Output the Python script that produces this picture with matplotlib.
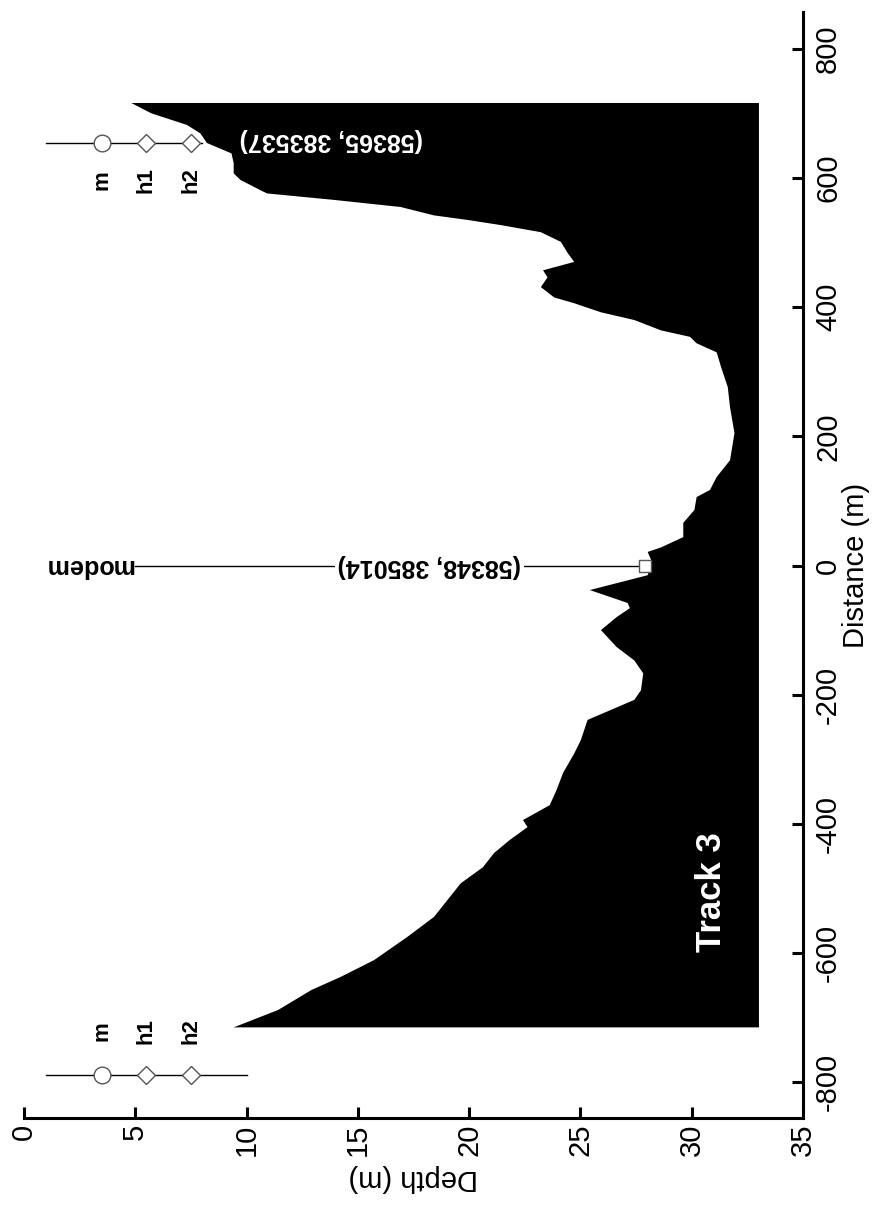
import numpy as np
import matplotlib
matplotlib.use("Agg")
import matplotlib.pyplot as plt

plt.rcParams['font.family'] = ['Liberation Sans', 'DejaVu Sans']
plt.rcParams['axes.unicode_minus'] = False

# bathymetry profile along the track (distance m, depth m)
distance = [717, 701, 683, 670, 655, 639, 624, 608, 598, 582, 577, 567, 556, 543, 536,
            528, 517, 502, 485, 471, 458, 447, 432, 416, 407, 393, 381, 365, 355, 345,
            331, 308, 277, 246, 206, 164, 138, 118, 107, 87, 67, 45, 29, 22, 6,
            -14, -37, -57, -65, -79, -99, -125, -146, -166, -192, -207, -238, -269, -290, -320,
            -347, -370, -393, -404, -424, -444, -466, -491, -517, -543, -574, -610, -636, -656, -687,
            -714]
depth = [4.8, 5.7, 7.3, 7.9, 8.2, 9.3, 9.4, 9.4, 9.7, 10.6, 10.9, 13.9, 16.9, 18.4, 19.9,
         21.4, 23.2, 24.1, 24.4, 24.7, 23.3, 23.5, 23.2, 23.8, 24.7, 25.9, 27.4, 28.6, 29.9, 30.2,
         31.1, 31.3, 31.6, 31.7, 31.9, 31.7, 31.1, 30.8, 30.2, 30.1, 29.6, 29.6, 28.6, 28.0, 28.2,
         28.0, 25.4, 27.1, 27.2, 26.6, 25.9, 26.6, 27.4, 27.8, 27.7, 27.4, 25.3, 25.0, 24.7, 24.2,
         23.9, 23.6, 22.4, 22.6, 21.8, 21.1, 20.6, 19.6, 19.0, 18.4, 17.2, 15.7, 14.2, 12.9, 11.4,
         9.4]
bottom_depth = 33

# hydrophone strings at both ends
string_names = ['m', 'h1', 'h2']
string_depths = [3.5, 5.5, 7.5]
string_markers = ['o', 'D', 'D']
left_string = {'dist': -789, 'top': 1.0, 'bottom': 10.0, 'label_dist': -721}
right_string = {'dist': 655, 'top': 1.0, 'bottom': 8.0, 'label_dist': 597}
right_coords = '(58365, 383537)'

modem_dist = 0
modem_depth = 27.9
modem_coords = '(58348, 385014)'

fig = plt.figure(figsize=(8.91, 12.06), dpi=100)
ax = fig.add_axes([0.0269, 0.073, 0.8743, 0.917])

ax.fill_betweenx(distance, depth, bottom_depth, color='black', lw=0)

for s in (left_string, right_string):
    ax.plot([s['top'], s['bottom']], [s['dist'], s['dist']], color='black', lw=1.0, zorder=3)
    for name, d, mk in zip(string_names, string_depths, string_markers):
        ms = 12 if mk == 'o' else 9
        ax.plot(d, s['dist'], marker=mk, ms=ms, mfc='white', mec='#555555', mew=1.0, zorder=4)
        ax.text(d, s['label_dist'], name, rotation=90, ha='center', va='center',
                fontsize=16, fontweight='bold')

ax.text(13.8, right_string['dist'] + 4, right_coords, rotation=180, ha='center', va='center',
        fontsize=18, fontweight='bold', color='white')

# modem
ax.plot([5.0, modem_depth], [modem_dist, modem_dist], color='black', lw=1.0, zorder=3)
ax.plot(modem_depth, modem_dist, marker='s', ms=9, mfc='white', mec='#555555', mew=1.0, zorder=4)
ax.text(18.2, modem_dist, modem_coords, rotation=180, ha='center', va='center',
        fontsize=18, fontweight='bold',
        bbox=dict(facecolor='white', edgecolor='none', pad=2))
ax.text(2.9, modem_dist, 'modem', rotation=180, ha='center', va='center',
        fontsize=18, fontweight='bold')

ax.text(30.9, -505, 'Track 3', rotation=90, ha='center', va='center',
        fontsize=25, fontweight='bold', color='white')

ax.set_xlim(0, 35)
ax.set_ylim(-855, 857)
ax.set_xticks(np.arange(0, 36, 5))
ax.set_yticks(np.arange(-800, 801, 200))

ax.spines['top'].set_visible(False)
ax.spines['left'].set_visible(False)
ax.spines['bottom'].set_linewidth(2.2)
ax.spines['right'].set_linewidth(2.2)
ax.yaxis.tick_right()
ax.yaxis.set_label_position('right')
ax.tick_params(axis='both', direction='in', length=8, width=2.2, labelsize=21)
ax.tick_params(axis='x', pad=4, labelrotation=90)
ax.tick_params(axis='y', pad=8, labelrotation=90)
for lab in ax.get_yticklabels():
    lab.set_va('center')

ax.set_xlabel('Depth (m)', fontsize=21, rotation=180, labelpad=6)
ax.set_ylabel('Distance (m)', fontsize=21, rotation=90, labelpad=0)

fig.savefig('out.png', dpi=100)
